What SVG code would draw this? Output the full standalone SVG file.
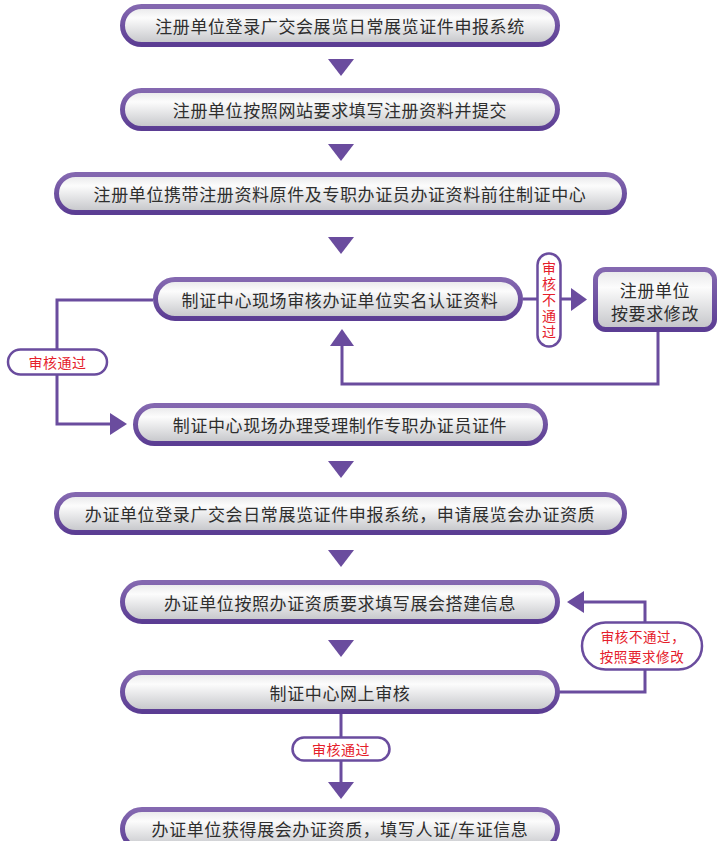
<svg xmlns="http://www.w3.org/2000/svg" width="717" height="841" viewBox="0 0 717 841">
<defs>
<linearGradient id="fillG" x1="0" y1="0" x2="0" y2="1">
<stop offset="0" stop-color="#e6e6e8"/>
<stop offset="0.3" stop-color="#fcfcfc"/>
<stop offset="1" stop-color="#c3c4c8"/>
</linearGradient>
<linearGradient id="strokeG" x1="0" y1="0" x2="0" y2="1">
<stop offset="0" stop-color="#8468b0"/>
<stop offset="1" stop-color="#5b3d93"/>
</linearGradient>
<style>
.box{fill:url(#fillG);stroke:url(#strokeG);stroke-width:5}
.t{font-family:"Noto Sans CJK SC","Noto Sans",sans-serif;font-size:17px;fill:#2e2e2e;text-anchor:middle;dominant-baseline:central;letter-spacing:0.6px}
.lab{fill:#ffffff;stroke:#6a4c9e;stroke-width:2.5}
.r{font-family:"Noto Sans CJK SC","Noto Sans",sans-serif;font-size:14px;fill:#e5202b;text-anchor:middle;dominant-baseline:central;letter-spacing:0.5px}
.r2{font-family:"Noto Sans CJK SC","Noto Sans",sans-serif;font-size:13.5px;fill:#e5202b;text-anchor:middle;dominant-baseline:central;letter-spacing:0.6px}
.rv{font-family:"Noto Sans CJK SC","Noto Sans",sans-serif;font-size:14px;fill:#e5202b;text-anchor:middle;writing-mode:vertical-rl;letter-spacing:2px}
.ln{fill:none;stroke:#6a4c9e;stroke-width:3}
.ar{fill:#6a4c9e}
</style>
</defs>
<g id="connectors">
<polygon class="ar" points="328,59 354,59 341,76"/>
<polygon class="ar" points="328,144 354,144 341,161"/>
<polygon class="ar" points="328,237 354,237 341,254"/>
<polygon class="ar" points="328,461 354,461 341,478"/>
<polygon class="ar" points="328,550 354,550 341,567"/>
<polygon class="ar" points="328,640 354,640 341,657"/>
<line class="ln" x1="523" y1="299" x2="571" y2="299"/>
<polygon class="ar" points="571,288 571,311 587,299.5"/>
<polyline class="ln" points="658,332 658,384 342,384 342,346"/>
<polygon class="ar" points="330,346 354,346 342,329"/>
<polyline class="ln" points="153,300 57,300 57,424 112,424"/>
<polygon class="ar" points="110,413 110,435 127,424"/>
<polyline class="ln" points="559,692 645,692 645,602 583,602"/>
<polygon class="ar" points="584,591 584,613 567,602"/>
<line class="ln" x1="341" y1="713" x2="341" y2="784"/>
<polygon class="ar" points="328,782 354,782 341,799"/>
</g>
<g id="label-left">
<rect class="lab" x="8" y="349.5" width="99" height="25" rx="12.5"/>
<text class="r" x="57.5" y="362">审核通过</text>
</g>
<g id="label-vert">
<rect class="lab" x="537.5" y="253.5" width="23" height="93" rx="11.5"/>
<text class="rv" x="549" y="301">审核不通过</text>
</g>
<g id="label-right">
<rect class="lab" x="582" y="622.5" width="120" height="47" rx="23.5"/>
<text class="r2" x="643" y="636">审核不通过，</text>
<text class="r2" x="642" y="656">按照要求修改</text>
</g>
<g id="label-bottom">
<rect class="lab" x="292.5" y="737.5" width="97" height="23" rx="11.5"/>
<text class="r" x="341" y="749">审核通过</text>
</g>
<g id="n1">
<rect class="box" x="122.5" y="6.5" width="435" height="38" rx="19"/>
<text class="t" x="340" y="25.5">注册单位登录广交会展览日常展览证件申报系统</text>
</g>
<g id="n2">
<rect class="box" x="122.5" y="90.5" width="435" height="38" rx="19"/>
<text class="t" x="340" y="109.5">注册单位按照网站要求填写注册资料并提交</text>
</g>
<g id="n3">
<rect class="box" x="56.5" y="174.5" width="568" height="38" rx="19"/>
<text class="t" x="340" y="193.5">注册单位携带注册资料原件及专职办证员办证资料前往制证中心</text>
</g>
<g id="n4">
<rect class="box" x="155.5" y="279.5" width="365" height="39" rx="19.5"/>
<text class="t" x="340" y="299">制证中心现场审核办证单位实名认证资料</text>
</g>
<g id="n5">
<rect class="box" x="595.5" y="269.5" width="119" height="60" rx="10"/>
<text class="t" x="655" y="289">注册单位</text>
<text class="t" x="655" y="312">按要求修改</text>
</g>
<g id="n6">
<rect class="box" x="135.5" y="405.5" width="410" height="38" rx="19"/>
<text class="t" x="340" y="424.5">制证中心现场办理受理制作专职办证员证件</text>
</g>
<g id="n7">
<rect class="box" x="56.5" y="494.5" width="568" height="38" rx="19"/>
<text class="t" x="340" y="513.5">办证单位登录广交会日常展览证件申报系统，申请展览会办证资质</text>
</g>
<g id="n8">
<rect class="box" x="122.5" y="582.5" width="435" height="39" rx="19.5"/>
<text class="t" x="340" y="602">办证单位按照办证资质要求填写展会搭建信息</text>
</g>
<g id="n9">
<rect class="box" x="122.5" y="672.5" width="435" height="39" rx="19.5"/>
<text class="t" x="340" y="692">制证中心网上审核</text>
</g>
<g id="n10">
<rect class="box" x="122.5" y="809.5" width="435" height="39" rx="19.5"/>
<text class="t" x="340" y="828">办证单位获得展会办证资质，填写人证/车证信息</text>
</g>
</svg>
